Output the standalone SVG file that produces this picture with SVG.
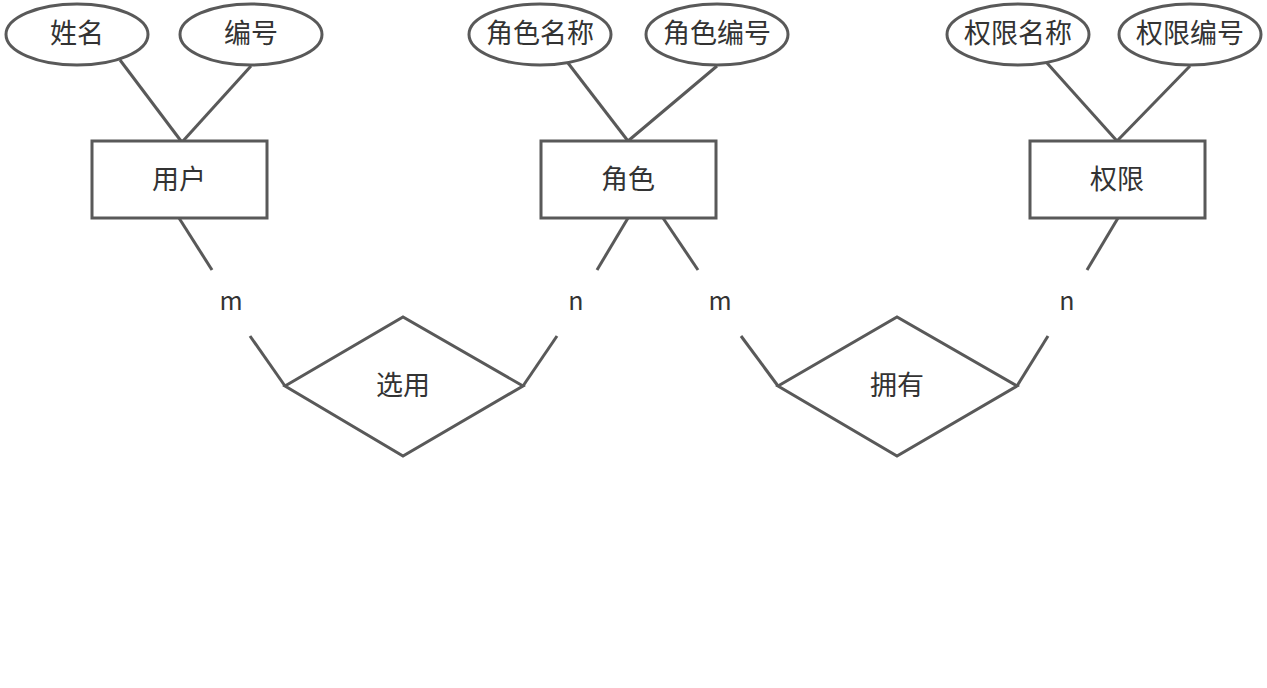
<svg xmlns="http://www.w3.org/2000/svg" width="1267" height="688" viewBox="0 0 1267 688">
<style>
.s{fill:#fff;stroke:#595959;stroke-width:3}
.c{fill:none;stroke:#595959;stroke-width:3}
text{font-family:"Noto Sans CJK SC","Noto Sans",sans-serif;font-size:27px;fill:#333;text-anchor:middle;dominant-baseline:central}
.l{font-size:25px}
</style>
<rect width="1267" height="688" fill="#fff"/>
<g id="connectors">
<line class="c" x1="120" y1="60" x2="181" y2="141"/>
<line class="c" x1="251" y1="66" x2="183" y2="141"/>
<line class="c" x1="568" y1="63" x2="628" y2="141"/>
<line class="c" x1="717" y1="66" x2="628" y2="141"/>
<line class="c" x1="1047" y1="63" x2="1117" y2="141"/>
<line class="c" x1="1190" y1="66" x2="1117" y2="141"/>
<line class="c" x1="179" y1="218" x2="212" y2="270"/>
<line class="c" x1="250" y1="336" x2="285" y2="386"/>
<line class="c" x1="628" y1="218" x2="597" y2="270"/>
<line class="c" x1="557" y1="336" x2="523" y2="386"/>
<line class="c" x1="663" y1="218" x2="698" y2="270"/>
<line class="c" x1="741" y1="336" x2="778" y2="386"/>
<line class="c" x1="1118" y1="218" x2="1087" y2="270"/>
<line class="c" x1="1048" y1="336" x2="1017" y2="386"/>
<text class="l" x="231" y="299">m</text>
<text class="l" x="576" y="299">n</text>
<text class="l" x="720" y="299">m</text>
<text class="l" x="1067" y="299">n</text>
</g>
<g id="attr-xingming"><ellipse class="s" cx="77" cy="34.5" rx="71" ry="30.5"/><text x="77" y="31">姓名</text></g>
<g id="attr-bianhao"><ellipse class="s" cx="251" cy="34.5" rx="71" ry="30.5"/><text x="251" y="31">编号</text></g>
<g id="attr-juesemingcheng"><ellipse class="s" cx="540" cy="34.5" rx="71" ry="30.5"/><text x="540" y="31">角色名称</text></g>
<g id="attr-juesebianhao"><ellipse class="s" cx="717" cy="34.5" rx="71" ry="30.5"/><text x="717" y="31">角色编号</text></g>
<g id="attr-quanxianmingcheng"><ellipse class="s" cx="1018" cy="34.5" rx="71" ry="30.5"/><text x="1018" y="31">权限名称</text></g>
<g id="attr-quanxianbianhao"><ellipse class="s" cx="1190" cy="34.5" rx="71" ry="30.5"/><text x="1190" y="31">权限编号</text></g>
<g id="entity-yonghu"><rect class="s" x="92" y="141" width="175" height="77"/><text x="179" y="177">用户</text></g>
<g id="entity-juese"><rect class="s" x="541" y="141" width="175" height="77"/><text x="628" y="177">角色</text></g>
<g id="entity-quanxian"><rect class="s" x="1030" y="141" width="175" height="77"/><text x="1117" y="177">权限</text></g>
<g id="rel-xuanyong"><polygon class="s" points="285,386 403,317 523,386 403,456"/><text x="403" y="383">选用</text></g>
<g id="rel-yongyou"><polygon class="s" points="778,386 897,317 1017,386 897,456"/><text x="897" y="383">拥有</text></g>
</svg>
